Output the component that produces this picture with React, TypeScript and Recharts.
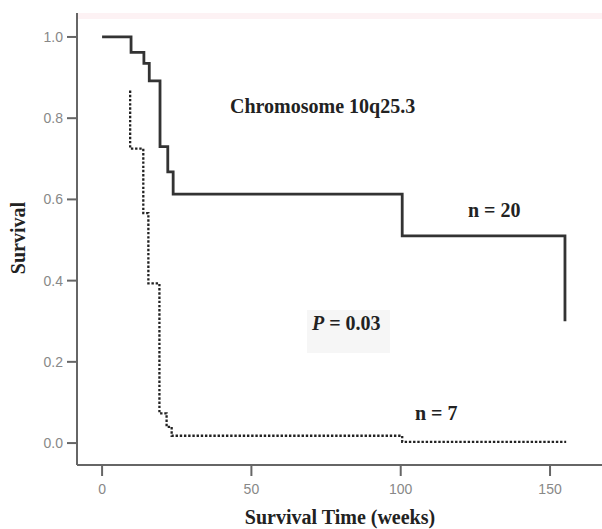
import { LineChart, Line, XAxis, YAxis } from 'recharts';

// Kaplan-Meier steps (weeks, survival)
const solidTimes = [0, 9.7, 14, 15.8, 19.4, 22, 23.8, 100.5, 155];
const solidSurv = [1.0, 0.962, 0.935, 0.892, 0.73, 0.668, 0.613, 0.51, 0.3];

const dashedTimes = [9.4, 9.4, 13.8, 15.5, 19.2, 21.6, 23.3, 100.5, 155.4];
const dashedSurv = [0.868, 0.725, 0.566, 0.393, 0.073, 0.04, 0.018, 0.003, 0.003];

const xTicks = [0, 50, 100, 150];
const yTicks = [0, 0.2, 0.4, 0.6, 0.8, 1.0];

const solidData = solidTimes.map((t, i) => ({ t, s: solidSurv[i] }));
const dashedData = dashedTimes.map((t, i) => ({ t, s: dashedSurv[i] }));

const serif = '"Liberation Serif", "Times New Roman", serif';
const tickStyle = { fontSize: 14, fill: '#888', fontFamily: '"Liberation Sans", Arial, sans-serif' };

const App = () => {
    return (
        <div style={{ position: 'absolute', left: 0, top: 0, width: 602, height: 529, background: '#fff' }}>
            <svg width={602} height={529} style={{ position: 'absolute', left: 0, top: 0 }}>
                <rect x={78} y={13} width={524} height={6} fill="#fdf2f4" />
                <rect x={307} y={310} width={83} height={43} fill="#f6f6f6" />
            </svg>
            <div style={{ position: 'absolute', left: 0, top: 0 }}>
                <LineChart width={602} height={529} margin={{ top: 13, right: 0, bottom: 34, left: 37 }}>
                    <XAxis
                        type="number"
                        dataKey="t"
                        domain={[-8.4, 167.4]}
                        ticks={xTicks}
                        allowDataOverflow
                        height={30}
                        tickSize={11}
                        tickMargin={8}
                        stroke="#666"
                        strokeWidth={2}
                        tick={tickStyle}
                    />
                    <YAxis
                        type="number"
                        domain={[-0.054, 1.059]}
                        ticks={yTicks}
                        allowDataOverflow
                        width={40}
                        tickSize={10}
                        tickMargin={4}
                        stroke="#666"
                        strokeWidth={2}
                        tick={tickStyle}
                        tickFormatter={(v: number) => v.toFixed(1)}
                    />
                    <Line
                        data={solidData}
                        dataKey="s"
                        type="stepAfter"
                        stroke="#333"
                        strokeWidth={2.8}
                        dot={false}
                        isAnimationActive={false}
                    />
                    <Line
                        data={dashedData}
                        dataKey="s"
                        type="stepAfter"
                        stroke="#222"
                        strokeWidth={2.3}
                        strokeDasharray="2.4 1.8"
                        dot={false}
                        isAnimationActive={false}
                    />
                </LineChart>
            </div>
            <svg width={602} height={529} style={{ position: 'absolute', left: 0, top: 0, pointerEvents: 'none' }}>
                <g fontFamily={serif} fontWeight="bold" fontSize={20} fill="#222">
                    <text x={230} y={113}>Chromosome 10q25.3</text>
                    <text x={468} y={217}>n = 20</text>
                    <text x={312} y={330}>
                        <tspan fontStyle="italic">P</tspan> = 0.03
                    </text>
                    <text x={415} y={420}>n = 7</text>
                    <text x={340} y={524} textAnchor="middle">Survival Time (weeks)</text>
                    <text x={25} y={238} textAnchor="middle" transform="rotate(-90 25 238)">Survival</text>
                </g>
            </svg>
        </div>
    );
};

export default App;
